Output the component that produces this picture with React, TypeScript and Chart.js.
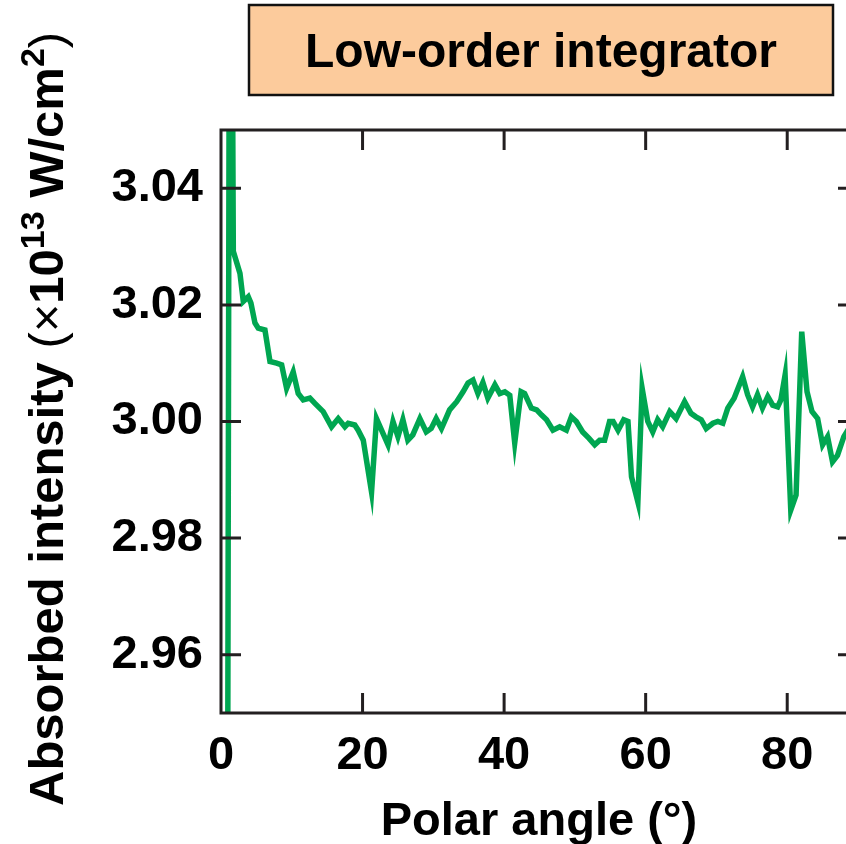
import { useEffect, useRef } from "react";
import { Chart, registerables } from "chart.js";

Chart.register(...registerables);

// Polar angle (degrees) and absorbed intensity (×10^13 W/cm²)
const ANGLE = [
  0.8, 1.3, 1.74, 2.68, 3.15, 3.85, 4.23, 4.8, 5.26, 6.21, 6.92, 7.86, 8.57, 9.27,
  10.2, 10.91, 11.62, 12.56, 13.27, 14.44, 15.62, 16.56, 17.5, 17.97, 18.9, 19.38,
  20.1, 21.27, 21.97, 23.6, 24.3, 25.0, 25.7, 26.4, 27.1, 28.1, 29.0, 29.7, 30.4,
  31.15, 32.3, 33.3, 34.2, 34.9, 35.6, 36.3, 37.0, 37.7, 38.7, 39.4, 40.1, 40.8,
  41.5, 42.4, 42.9, 43.85, 44.6, 45.3, 46.0, 46.9, 47.85, 48.8, 49.5, 50.2, 51.1,
  52.0, 52.8, 53.5, 54.2, 54.9, 55.4, 56.1, 56.9, 57.5, 58.0, 58.9, 59.5, 60.3,
  61.0, 61.7, 62.4, 63.4, 64.3, 65.5, 66.4, 67.1, 67.85, 68.55, 69.5, 70.2, 70.9,
  71.6, 72.5, 73.7, 74.4, 75.1, 75.8, 76.5, 77.25, 77.95, 78.65, 79.1, 79.7, 80.5,
  81.25, 82.05, 82.8, 83.5, 84.3, 85.0, 85.7, 86.4, 87.1, 88.0, 88.8, 89.6,
];
const INTENSITY = [
  2.85, 3.15, 3.0292, 3.0254, 3.0206, 3.0214, 3.0203, 3.0169, 3.016, 3.0157, 3.0103,
  3.01, 3.0097, 3.0057, 3.0085, 3.0048, 3.0037, 3.004, 3.0031, 3.0017, 2.9991,
  3.0005, 2.9991, 2.9997, 2.9994, 2.9985, 2.9968, 2.9879, 3.0005, 2.996, 3.0,
  2.9974, 3.0003, 2.9968, 2.9977, 3.0005, 2.9982, 2.9988, 3.0005, 2.9988, 3.002,
  3.0034, 3.0051, 3.0066, 3.0071, 3.0048, 3.0067, 3.004, 3.0063, 3.0048, 3.0051,
  3.0045, 2.9963, 3.0051, 3.0048, 3.0023, 3.002, 3.0011, 3.0003, 2.9985, 2.9991,
  2.9985, 3.0008, 3.0, 2.9982, 2.9971, 2.996, 2.9968, 2.9968, 3.0, 3.0, 2.9985,
  3.0003, 3.0, 2.9905, 2.9862, 3.0057, 3.0, 2.9982, 3.0003, 2.9991, 3.0017, 3.0005,
  3.0034, 3.0014, 3.0008, 3.0003, 2.9988, 2.9997, 3.0, 2.9997, 3.0023, 3.004,
  3.0077, 3.0046, 3.0025, 3.0046, 3.0023, 3.0043, 3.0028, 3.0025, 3.0037, 3.008,
  2.9848, 2.9874, 3.0154, 3.0051, 3.0017, 3.0005, 2.996, 2.9974, 2.9931, 2.9942,
  2.9974, 2.999, 2.9985,
];

const X_TICKS = [0, 20, 40, 60, 80];
const Y_TICKS = [2.96, 2.98, 3.0, 3.02, 3.04];

const PANEL_TITLE = "Low-order integrator";
const X_TITLE = "Polar angle (°)";

const FONT = '"Liberation Sans", Arial, Helvetica, sans-serif';
const INK = "#231f20";
const LINE_GREEN = "#00a651";

const CANVAS_W = 880;
const CANVAS_H = 844;
const PLOT = { left: 221, top: 130, right: 858, bottom: 713 };

// Rich-text pieces of the rotated y-axis title (with superscripts)
const Y_TITLE_PARTS = [
  { text: "Absorbed intensity ", weight: "bold", size: 49, rise: 0 },
  { text: "(×", weight: "normal", size: 49, rise: 0 },
  { text: "10", weight: "bold", size: 49, rise: 0 },
  { text: "13", weight: "bold", size: 34, rise: 19 },
  { text: " W/cm", weight: "bold", size: 49, rise: 0 },
  { text: "2", weight: "bold", size: 34, rise: 19 },
  { text: ")", weight: "normal", size: 49, rise: 0 },
];

const decorations = {
  id: "decorations",
  afterDatasetsDraw(chart: any) {
    const { ctx, chartArea: a, scales } = chart;
    const xs = scales.x;
    const ys = scales.y;
    const tick = 20;
    ctx.save();
    ctx.strokeStyle = INK;
    ctx.lineWidth = 3;
    ctx.strokeRect(a.left, a.top, a.right - a.left, a.bottom - a.top);
    ctx.beginPath();
    X_TICKS.forEach((v) => {
      const px = xs.getPixelForValue(v);
      if (Math.abs(px - a.left) < 2) return;
      ctx.moveTo(px, a.bottom);
      ctx.lineTo(px, a.bottom - tick);
      ctx.moveTo(px, a.top);
      ctx.lineTo(px, a.top + tick);
    });
    Y_TICKS.forEach((v) => {
      const py = ys.getPixelForValue(v);
      ctx.moveTo(a.left, py);
      ctx.lineTo(a.left + tick, py);
      ctx.moveTo(a.right, py);
      ctx.lineTo(a.right - tick, py);
    });
    ctx.stroke();
    ctx.restore();
  },
  afterDraw(chart: any) {
    const { ctx } = chart;
    ctx.save();
    // panel title box
    ctx.fillStyle = "#fccb9c";
    ctx.fillRect(249, 5, 584, 90);
    ctx.strokeStyle = "#111";
    ctx.lineWidth = 2.5;
    ctx.strokeRect(249, 5, 584, 90);
    ctx.fillStyle = "#000";
    ctx.font = `bold 48px ${FONT}`;
    ctx.textAlign = "center";
    ctx.textBaseline = "alphabetic";
    ctx.fillText(PANEL_TITLE, 541, 67);

    // x-axis title
    ctx.font = `bold 47px ${FONT}`;
    ctx.fillText(X_TITLE, 539, 835);

    // y-axis title, rotated
    ctx.translate(63, 806);
    ctx.rotate(-Math.PI / 2);
    ctx.textAlign = "left";
    let x = 0;
    Y_TITLE_PARTS.forEach((p) => {
      ctx.font = `${p.weight} ${p.size}px ${FONT}`;
      ctx.fillText(p.text, x, -p.rise);
      x += ctx.measureText(p.text).width;
    });
    ctx.restore();
  },
};

export default function App() {
  const ref = useRef<HTMLCanvasElement | null>(null);

  useEffect(() => {
    if (!ref.current) return;
    const chart = new Chart(ref.current, {
      type: "line",
      data: {
        datasets: [
          {
            data: ANGLE.map((a, i) => ({ x: a, y: INTENSITY[i] })),
            borderColor: LINE_GREEN,
            borderWidth: 5.5,
            pointRadius: 0,
            tension: 0,
            fill: false,
          },
        ],
      },
      options: {
        animation: false,
        responsive: false,
        devicePixelRatio: 1,
        layout: {
          padding: { left: 0, top: PLOT.top, right: CANVAS_W - PLOT.right, bottom: 0 },
        },
        plugins: {
          legend: { display: false },
          tooltip: { enabled: false },
        },
        scales: {
          x: {
            type: "linear",
            min: 0,
            max: 90,
            afterBuildTicks: (s: any) => {
              s.ticks = X_TICKS.map((v) => ({ value: v }));
            },
            afterFit: (s: any) => {
              s.height = CANVAS_H - PLOT.bottom;
            },
            grid: { display: false, drawTicks: false },
            border: { display: false },
            ticks: {
              color: "#000",
              font: { family: FONT, size: 47, weight: "bold" },
              padding: 15,
              maxRotation: 0,
              autoSkip: false,
              callback: (v: any) => String(v),
            },
          },
          y: {
            type: "linear",
            min: 2.95,
            max: 3.05,
            afterBuildTicks: (s: any) => {
              s.ticks = Y_TICKS.map((v) => ({ value: v }));
            },
            afterFit: (s: any) => {
              s.width = PLOT.left;
            },
            grid: { display: false, drawTicks: false },
            border: { display: false },
            ticks: {
              color: "#000",
              font: { family: FONT, size: 47, weight: "bold" },
              padding: 18,
              autoSkip: false,
              callback: (v: any) => Number(v).toFixed(2),
            },
          },
        },
      },
      plugins: [decorations],
    } as any);
    return () => chart.destroy();
  }, []);

  return (
    <div
      style={{
        position: "fixed",
        left: 0,
        top: 0,
        width: 846,
        height: 844,
        overflow: "hidden",
        background: "#fff",
      }}
    >
      <canvas ref={ref} width={CANVAS_W} height={CANVAS_H} style={{ display: "block" }} />
    </div>
  );
}
